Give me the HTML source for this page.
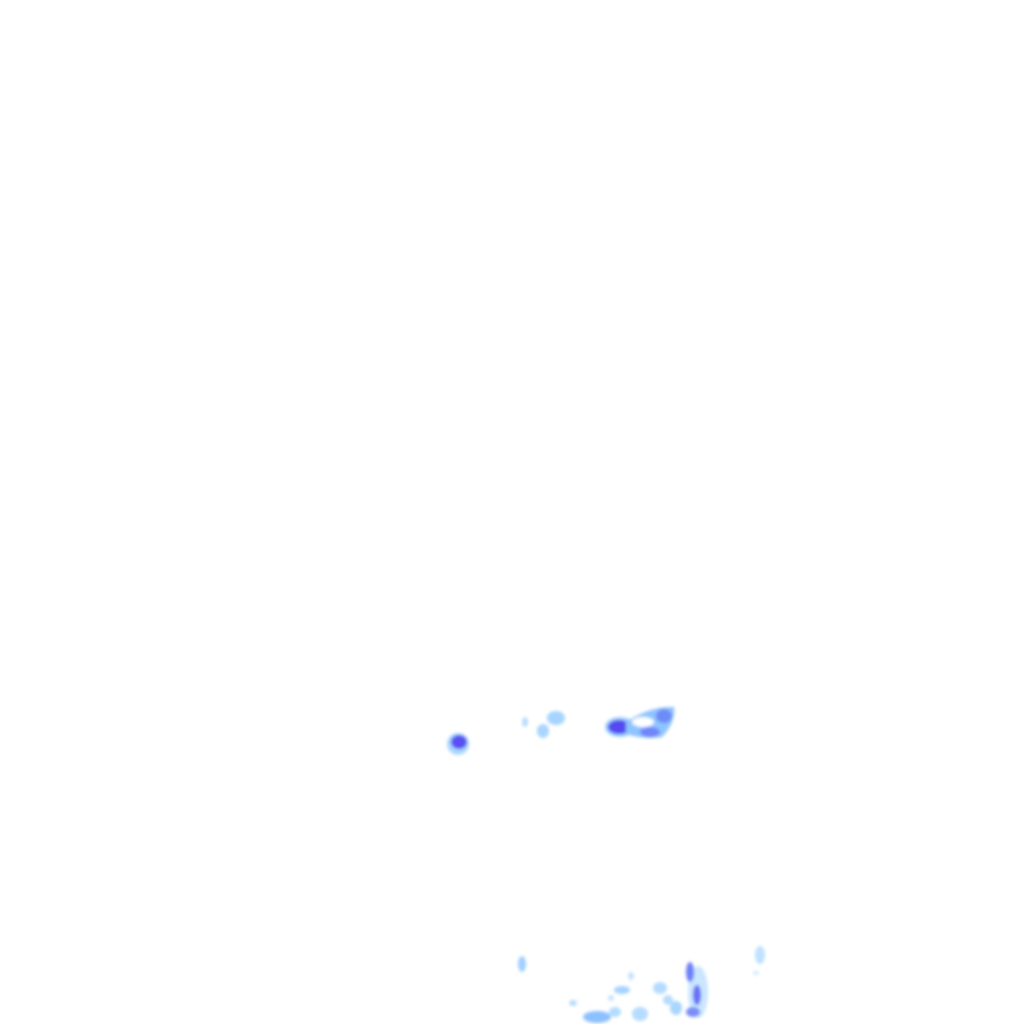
<!DOCTYPE html>
<html><head><style>html,body{margin:0;padding:0;background:#fff}svg{display:block}</style></head>
<body>
<svg width="1024" height="1024" viewBox="0 0 1024 1024" xmlns="http://www.w3.org/2000/svg">
<defs>
<filter id="b" x="-50%" y="-50%" width="200%" height="200%"><feGaussianBlur stdDeviation="1.6"/></filter>
</defs>
<g filter="url(#b)">
<ellipse cx="458" cy="744" rx="11" ry="11" fill="#a9d8ff"/>
<ellipse cx="459" cy="742" rx="8" ry="7" fill="#5a50f0"/>
<ellipse cx="525" cy="722" rx="3" ry="5" fill="#b6dcff"/>
<ellipse cx="543" cy="731" rx="6" ry="7" fill="#a9d5ff"/>
<ellipse cx="556" cy="718" rx="9" ry="7" fill="#a6d4ff"/>
<ellipse cx="620" cy="727" rx="15" ry="10" fill="#9fd0ff"/>
<ellipse cx="619" cy="727" rx="11" ry="7" fill="#5548f0"/>
<path d="M626 722 Q650 706 674 707 Q676 722 662 737 Q645 740 626 734 Z" fill="#8fc4ff"/>
<ellipse cx="664" cy="716" rx="8" ry="7" fill="#6d8cf8"/>
<ellipse cx="650" cy="732" rx="10" ry="5" fill="#6f86f8"/>
<ellipse cx="643" cy="722" rx="11" ry="5" fill="#ffffff"/>
<ellipse cx="522" cy="964" rx="4" ry="8" fill="#9fd0ff"/>
<ellipse cx="698" cy="992" rx="10" ry="26" fill="#b3dbff" opacity="0.7"/>
<ellipse cx="690" cy="972" rx="4" ry="10" fill="#6d80f8"/>
<ellipse cx="697" cy="995" rx="4" ry="10" fill="#6a70f5"/>
<ellipse cx="693" cy="1012" rx="7" ry="5" fill="#7a8cf8"/>
<ellipse cx="597" cy="1017" rx="14" ry="6" fill="#8cc0ff"/>
<ellipse cx="615" cy="1012" rx="6" ry="5" fill="#b2dbff"/>
<ellipse cx="622" cy="990" rx="8" ry="4" fill="#a5d3ff"/>
<ellipse cx="640" cy="1014" rx="8" ry="7" fill="#b5dcff"/>
<ellipse cx="660" cy="988" rx="7" ry="6" fill="#b5dcff"/>
<ellipse cx="668" cy="1000" rx="5" ry="5" fill="#b5dcff"/>
<ellipse cx="676" cy="1008" rx="6" ry="7" fill="#a9d5ff"/>
<ellipse cx="573" cy="1003" rx="4" ry="3" fill="#b5dcff"/>
<ellipse cx="631" cy="976" rx="3" ry="4" fill="#c5e3ff"/>
<ellipse cx="611" cy="998" rx="3" ry="3" fill="#c5e3ff"/>
<ellipse cx="760" cy="955" rx="5" ry="9" fill="#c0e1ff"/>
<ellipse cx="756" cy="973" rx="3" ry="2" fill="#d0e9ff"/>
</g>
</svg>
</body></html>
